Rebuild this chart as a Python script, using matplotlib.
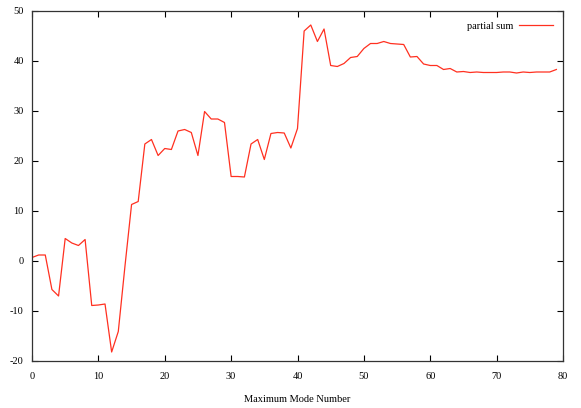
import matplotlib
matplotlib.use("Agg")
import matplotlib.pyplot as plt

mode_number = list(range(80))
partial_sum = [
    0.7, 1.2, 1.2, -5.7, -7.0, 4.5, 3.6, 3.1, 4.3, -8.9,
    -8.8, -8.6, -18.2, -14.1, -1.1, 11.3, 11.9, 23.4, 24.3, 21.1,
    22.5, 22.3, 26.0, 26.3, 25.7, 21.1, 29.9, 28.4, 28.4, 27.7,
    16.9, 16.9, 16.8, 23.4, 24.3, 20.3, 25.5, 25.7, 25.6, 22.6,
    26.5, 46.0, 47.2, 43.9, 46.4, 39.1, 38.9, 39.5, 40.7, 40.9,
    42.5, 43.5, 43.5, 43.9, 43.5, 43.4, 43.3, 40.8, 40.9, 39.4,
    39.1, 39.1, 38.3, 38.5, 37.8, 37.9, 37.7, 37.8, 37.7, 37.7,
    37.7, 37.8, 37.8, 37.6, 37.8, 37.7, 37.8, 37.8, 37.8, 38.3,
]
series_label = "partial sum"
x_label = "Maximum Mode Number"
x_ticks = [0, 10, 20, 30, 40, 50, 60, 70, 80]
y_ticks = [-20, -10, 0, 10, 20, 30, 40, 50]

plt.rcParams['font.family'] = ['Liberation Serif', 'DejaVu Serif']
plt.rcParams['axes.unicode_minus'] = False

fig = plt.figure(figsize=(5.81, 4.08), dpi=100)
ax = fig.add_axes([32/581, 1 - 361/408, (563 - 32)/581, (361 - 11)/408])
ax.plot(mode_number, partial_sum, color='#ff3020', linewidth=0.9, label=series_label)
ax.set_xlim(0, 80)
ax.set_ylim(-20, 50)
ax.set_xticks(x_ticks)
ax.set_yticks(y_ticks)
ax.tick_params(direction='in', top=True, right=True, length=4, width=0.8,
               labelsize=7.5)
ax.tick_params(axis='x', pad=8)
ax.tick_params(axis='y', pad=6)
for s in ax.spines.values():
    s.set_linewidth(0.9)
    s.set_color('#333333')
ax.set_xlabel(x_label, fontsize=7.5, labelpad=10)
leg = ax.legend(loc='upper right', frameon=False, fontsize=7.5, markerfirst=False,
                handlelength=3.2, handletextpad=0.6, borderaxespad=0.6)
fig.savefig("out.png", dpi=100)
